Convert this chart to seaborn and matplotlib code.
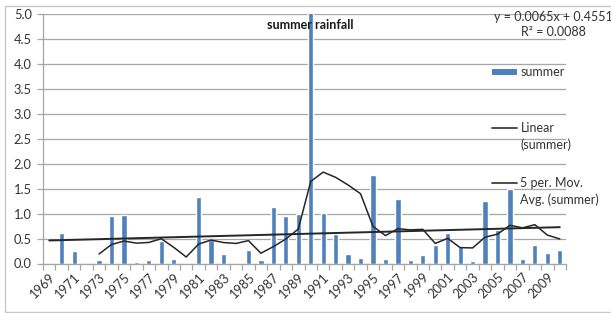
import numpy as np
import pandas as pd
import matplotlib
matplotlib.use("Agg")
import matplotlib.pyplot as plt
import seaborn as sns
from matplotlib.lines import Line2D
from matplotlib.patches import Rectangle

years = list(range(1969, 2011))
summer = [0.00, 0.62, 0.25, 0.00, 0.08, 0.95, 0.97, 0.04, 0.07, 0.45,
          0.09, 0.00, 1.34, 0.47, 0.20, 0.00, 0.28, 0.08, 1.13, 0.96,
          1.00, 5.05, 1.02, 0.60, 0.20, 0.12, 1.78, 0.10, 1.29, 0.08,
          0.17, 0.37, 0.61, 0.36, 0.05, 1.25, 0.67, 1.50, 0.10, 0.37,
          0.21, 0.28]
trend_slope = 0.0065
trend_intercept = 0.4551
r_squared = 0.0088
ma_window = 5
title = "summer rainfall"
y_ticks = [0.0, 0.5, 1.0, 1.5, 2.0, 2.5, 3.0, 3.5, 4.0, 4.5, 5.0]

sns.set_theme(style="white")
plt.rcParams["font.family"] = ["Lato", "DejaVu Sans"]

BLUE = "#4F81BD"
GRID = "#a6a6a6"
LINE = "#262626"
TXT = "#333333"

W, H = 611, 313
fig = plt.figure(figsize=(W / 100, H / 100), dpi=100)
L, R, T, B = 43, 566, 14, 263.5
ax = fig.add_axes([L / W, 1 - B / H, (R - L) / W, (B - T) / H])

df = pd.DataFrame({"year": [str(y) for y in years], "summer": summer})
sns.barplot(data=df, x="year", y="summer", color=BLUE, saturation=1,
            width=0.42, errorbar=None, ax=ax, zorder=2)

n = len(years)
pos = np.arange(n)
trend = trend_intercept + trend_slope * (pos + 1)
ax.plot(pos, trend, color=LINE, lw=1.4, zorder=3)
ma = pd.Series(summer).rolling(ma_window).mean()
ax.plot(pos, ma, color=LINE, lw=1.1, zorder=3)

ax.set_xlim(-0.5, n - 0.5)
ax.set_ylim(0, 5.0)
ax.set_yticks(y_ticks)
ax.set_yticklabels([f"{v:.1f}" for v in y_ticks])
ax.yaxis.grid(True, color=GRID, lw=0.9)
ax.set_axisbelow(True)
for s in ["top", "right"]:
    ax.spines[s].set_visible(False)
for s in ["left", "bottom"]:
    ax.spines[s].set_color(GRID)
    ax.spines[s].set_linewidth(0.9)

ax.set_xticks(pos[::2])
ax.set_xticklabels([str(y) for y in years[::2]], rotation=45,
                   ha="right", va="top", rotation_mode="anchor")
ax.set_xticks(np.arange(-0.5, n, 1.0), minor=True)
ax.tick_params(axis="x", which="major", length=0, pad=5, labelsize=9.3,
               labelcolor=TXT)
ax.tick_params(axis="x", which="minor", length=4, color=GRID, width=0.9,
               direction="out", bottom=True)
ax.tick_params(axis="y", length=4, color=GRID, width=0.9, direction="out",
               left=True, labelsize=9.3, labelcolor=TXT, pad=4)
ax.set_xlabel("")
ax.set_ylabel("")

fig.text(310 / W, 1 - 25 / H, title, ha="center", va="center",
         fontsize=9, fontweight="bold", color="#1a1a1a")
fig.text(553 / W, 1 - 24.5 / H,
         f"y = {trend_slope}x + {trend_intercept}\nR² = {r_squared}",
         ha="center", va="center", fontsize=9, color=TXT,
         multialignment="center", linespacing=1.35)

# legend
fig.add_artist(Rectangle((491.5 / W, 1 - 75 / H), 25.5 / W, 6 / H,
                         transform=fig.transFigure, color=BLUE, lw=0))
fig.text(520.5 / W, 1 - 72 / H, "summer", ha="left", va="center",
         fontsize=9, color=TXT)
fig.add_artist(Line2D([491.5 / W, 517 / W], [1 - 128 / H, 1 - 128 / H],
                      transform=fig.transFigure, color="#404040", lw=1.3))
fig.text(520.5 / W, 1 - 136.5 / H, "Linear\n(summer)", ha="left",
         va="center", fontsize=9, color=TXT, linespacing=1.4)
fig.add_artist(Line2D([491.5 / W, 517 / W], [1 - 183 / H, 1 - 183 / H],
                      transform=fig.transFigure, color="#404040", lw=1.3))
fig.text(520.5 / W, 1 - 191.5 / H, "5 per. Mov.\nAvg. (summer)", ha="left",
         va="center", fontsize=9, color=TXT, linespacing=1.4)

# outer chart border
fig.add_artist(Rectangle((5 / W, 1 - 312 / H), 620 / W, 306 / H,
                         transform=fig.transFigure, fill=False,
                         edgecolor="#c8c8c8", lw=1))

fig.savefig("out.png", dpi=100)
